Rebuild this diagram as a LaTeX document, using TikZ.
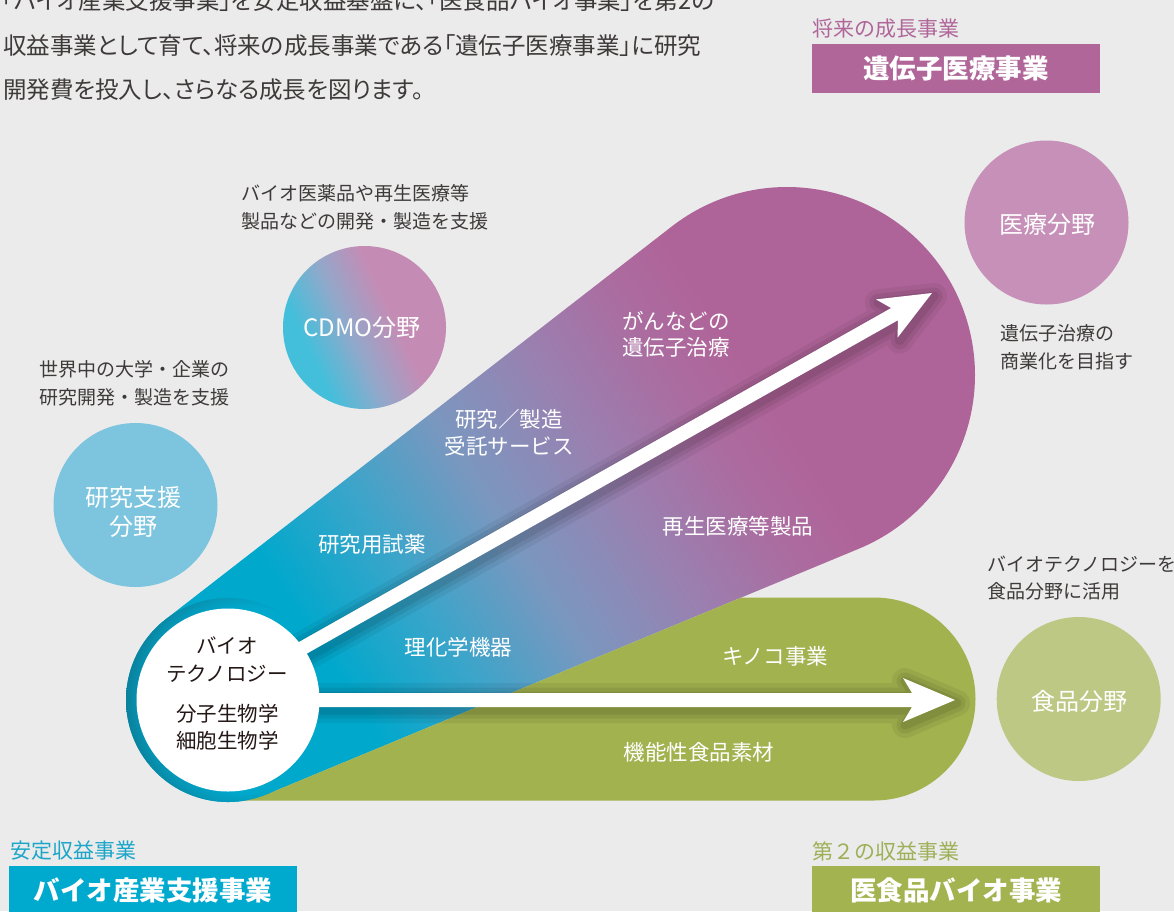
\documentclass[tikz,border=0pt]{standalone}
\usepackage{fontspec}
\setmainfont{Noto Sans CJK JP}
\newfontfamily\parafont{Noto Sans CJK JP}[RawFeature=+palt]
\usetikzlibrary{calc}
\definecolor{bgc}{HTML}{EBEBEB}
\definecolor{tealc}{HTML}{00A8CC}
\definecolor{g1}{HTML}{3AA5CA}
\definecolor{g2}{HTML}{7A97BF}
\definecolor{g3}{HTML}{9A80B0}
\definecolor{g4}{HTML}{AB6CA0}
\definecolor{purc}{HTML}{AF6499}
\definecolor{greenc}{HTML}{A2B24F}
\definecolor{ring1}{HTML}{0599BA}
\definecolor{ring2}{HTML}{0A7E98}
\definecolor{lblue}{HTML}{7DC4DF}
\definecolor{lpink}{HTML}{C690B8}
\definecolor{lgreen}{HTML}{BDC884}
\definecolor{cdteal}{HTML}{43BFDB}
\definecolor{cdmid}{HTML}{92A8CA}
\definecolor{cdpink}{HTML}{C48CB5}
\definecolor{darktxt}{HTML}{3E3A39}
\definecolor{biotxt}{HTML}{231815}
\definecolor{tealbox}{HTML}{00A9CE}
\definecolor{purbox}{HTML}{B06699}
\definecolor{greenbox}{HTML}{A2B350}
\definecolor{tealtxt}{HTML}{1BA6C9}
\definecolor{purtxt}{HTML}{B06699}
\definecolor{greentxt}{HTML}{9DB058}
\pgfdeclarehorizontalshading{mainshade}{1200bp}{color(0bp)=(tealc); color(320bp)=(tealc); color(430bp)=(g1); color(540bp)=(g2); color(660bp)=(g3); color(760bp)=(g4); color(830bp)=(purc); color(1200bp)=(purc)}
\pgfdeclarehorizontalshading{cdmoshade}{200bp}{color(0bp)=(cdteal); color(40bp)=(cdteal); color(85bp)=(cdmid); color(130bp)=(cdpink); color(200bp)=(cdpink)}
\pgfdeclareradialshading{ringshade}{\pgfpoint{0bp}{0bp}}{color(0bp)=(tealc); color(92bp)=(tealc); color(104bp)=(ring1); color(124bp)=(ring2)}
\tikzset{
  para/.style={inner sep=0, anchor=west, text=darktxt, font=\parafont\fontsize{23.5}{26}\selectfont},
  lbl/.style={inner sep=0, text=white, align=center, font=\fontsize{21.5}{26.5}\selectfont},
  darklbl/.style={inner sep=0, anchor=west, align=left, text=darktxt, font=\fontsize{19}{27.5}\selectfont},
  biolbl/.style={inner sep=0, align=center, text=biotxt, font=\fontsize{20.5}{27.5}\selectfont},
  circlbl/.style={inner sep=0, align=center, text=white, font=\fontsize{24}{28.7}\selectfont},
  disc/.style={circle, inner sep=0, minimum size=#1},
  head/.style={inner sep=0, anchor=west, font=\fontsize{21}{25}\selectfont},
  bandbox/.style={inner sep=0, minimum width=288, text=white, font=\bfseries\fontsize{26.5}{30}\selectfont},
  shadowline/.style={draw=black, line join=round, draw opacity=#1}
}
\newcommand\fatarrow[4]{%
  \path ($(#3)!52pt!(#2)$) coordinate (#4h)
        ($(#3)!43pt!(#2)$) coordinate (#4m);
  \path[#1] ($(#2)!7pt!90:(#3)$) -- ($(#4m)!7pt!90:(#3)$) -- ($(#4h)!22pt!90:(#3)$) -- (#3)
     -- ($(#4h)!22pt!-90:(#3)$) -- ($(#4m)!7pt!-90:(#3)$) -- ($(#2)!7pt!-90:(#3)$) -- cycle;
}
\begin{document}
\begin{tikzpicture}[x=1pt,y=1pt]
\useasboundingbox (0,0) rectangle (1174,-911);
\fill[bgc] (0,0) rectangle (1174,-911);
\coordinate (A) at (228,-700);
\coordinate (B) at (787,-375);
\coordinate (T1) at ($(A)+(-67.47:102)$);
% main gradient shape
\path[path picture={\pgftext[at=\pgfpointanchor{path picture bounding box}{center},rotate=33]{\pgfuseshading{mainshade}}}]
  ($(A)+(127.81:102)$) -- ($(B)+(127.81:188)$)
  arc[start angle=127.81,end angle=-67.47,radius=188]
  -- (T1) arc[start angle=-67.47,end angle=-232.19,radius=102] -- cycle;
% green shape
\fill[greenc] (T1) -- (741.3,-597.5) -- (874,-597.5)
  arc[start angle=90,end angle=-90,radius=101.5] -- (240,-800.5) -- cycle;
% ring shading at the left end
\begin{scope}
  \clip (A) circle[radius=102];
  \pgftext[at=\pgfpoint{248pt}{-700pt}]{\pgfuseshading{ringshade}}
\end{scope}
% nodes
\node[disc=183] (bio) at (228,-700) {};
\coordinate (dstart) at (228,-690);
\coordinate (tipd) at (932,-293);
\coordinate (tiph) at (955,-700);
% arrow shadows
\begin{scope}[transform canvas={xshift=2pt,yshift=-3pt}]
  \fatarrow{shadowline=.06, line width=26pt}{dstart}{tipd}{sa}
  \fatarrow{shadowline=.07, line width=17pt}{dstart}{tipd}{sb}
  \fatarrow{shadowline=.08, line width=9pt}{dstart}{tipd}{sc}
  \fatarrow{shadowline=.06, line width=26pt}{bio.center}{tiph}{sd}
  \fatarrow{shadowline=.07, line width=17pt}{bio.center}{tiph}{se}
  \fatarrow{shadowline=.08, line width=9pt}{bio.center}{tiph}{sf}
\end{scope}
% white circle
\fill[white] (bio.center) circle[radius=91.5];
% arrows
\fatarrow{fill=white}{dstart}{tipd}{ad}
\fatarrow{fill=white}{bio.center}{tiph}{ah}
% text in white circle
\node[biolbl] (bt1) at (227,-659.5) {バイオ\\テクノロジー};
\node[biolbl] (bt2) at (227.5,-727) {分子生物学\\細胞生物学};
% labels on shapes
\node[lbl] (l1) at (676,-334.5) {がんなどの\\遺伝子治療};
\node[lbl] (l2) at (509,-432.5) {研究／製造\\受託サービス};
\node[lbl] (l3) at (372,-544) {研究用試薬};
\node[lbl] (l4) at (458.5,-647) {理化学機器};
\node[lbl] (l5) at (738,-526) {再生医療等製品};
\node[lbl] (l6) at (775,-656) {キノコ事業};
\node[lbl] (l7) at (699,-752) {機能性食品素材};
% side circles
\node[disc=164, fill=lblue] (kenkyu) at (135.5,-505) {};
\node[circlbl] (kenkyut) at (133,-512) {研究支援\\分野};
\node[disc=163, path picture={\pgftext[at=\pgfpointanchor{path picture bounding box}{center},rotate=25]{\pgfuseshading{cdmoshade}}}] (cdmo) at (364.5,-327.5) {};
\node[circlbl] (cdmot) at (362,-328) {CDMO分野};
\node[disc=164, fill=lpink] (iryo) at (1046.5,-222.5) {};
\node[circlbl] (iryot) at (1047,-224) {医療分野};
\node[disc=164, fill=lgreen] (food) at (1078.7,-699) {};
\node[circlbl] (foodt) at (1079,-701) {食品分野};
% dark descriptions
\node[darklbl] (d1) at (241.7,-207.5) {バイオ医薬品や再生医療等\\製品などの開発・製造を支援};
\node[darklbl] (d2) at (39.3,-383.5) {世界中の大学・企業の\\研究開発・製造を支援};
\node[darklbl] (d3) at (1000,-347.3) {遺伝子治療の\\商業化を目指す};
\node[darklbl] (d4) at (987,-578) {バイオテクノロジーを\\食品分野に活用};
% top paragraph
\node[para] (p1) at (2,-1) {「バイオ産業支援事業」を安定収益基盤に、「医食品バイオ事業」を第2の};
\node[para] (p2) at (3,-45.5) {収益事業として育て、将来の成長事業である「遺伝子医療事業」に研究};
\node[para] (p3) at (3,-90) {開発費を投入し、さらなる成長を図ります。};
% headings and boxes
\node[head, text=purtxt] (h1) at (812,-29) {将来の成長事業};
\node[bandbox, fill=purbox, minimum height=48.7] (b1) at (956,-68.35) {遺伝子医療事業};
\node[head, text=tealtxt] (h2) at (10,-851) {安定収益事業};
\node[bandbox, fill=tealbox, minimum height=48] (b2) at (153,-890) {バイオ産業支援事業};
\node[head, text=greentxt] (h3) at (812,-851) {第２の収益事業};
\node[bandbox, fill=greenbox, minimum height=48] (b3) at (956,-890) {医食品バイオ事業};
\end{tikzpicture}
\end{document}
